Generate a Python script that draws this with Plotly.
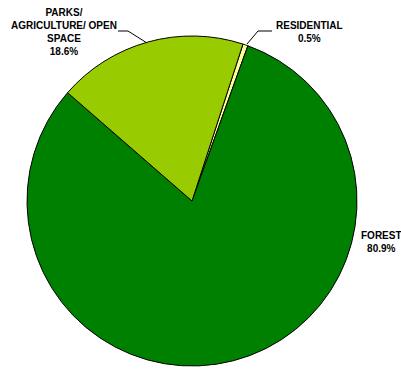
import plotly.graph_objects as go

categories = ["RESIDENTIAL", "FOREST", "PARKS/<br>AGRICULTURE/ OPEN<br>SPACE"]
values = [0.5, 80.9, 18.6]
colors = ["#FFFF99", "#008000", "#99CC00"]

W, H = 401, 374
cx, cy, r = 192, 201, 165

fig = go.Figure(go.Pie(
    labels=categories,
    values=values,
    sort=False,
    direction="clockwise",
    rotation=18,
    marker=dict(colors=colors, line=dict(color="black", width=1)),
    textinfo="none",
    hoverinfo="label+percent",
    showlegend=False,
    domain=dict(x=[(cx - r) / W, (cx + r) / W],
                y=[(H - cy - r) / H, (H - cy + r) / H]),
))

font = dict(family="Liberation Sans, Arial, sans-serif", size=10, color="black", weight="bold")
label_pos = [(309, 32), (381, 242), (64, 31.5)]
for cat, v, (x, y) in zip(categories, values, label_pos):
    fig.add_annotation(x=x / W, y=1 - y / H, xref="paper", yref="paper",
                       text=f"{cat}<br>{v:.1f}%", showarrow=False, font=font,
                       xanchor="center", yanchor="middle", align="center")

# leader lines
fig.add_shape(type="path", xref="paper", yref="paper",
              path=f"M {118/W} {1-31/H} L {128/W} {1-31/H} L {147/W} {1-43/H}",
              line=dict(color="black", width=1))
fig.add_shape(type="path", xref="paper", yref="paper",
              path=f"M {247/W} {1-44/H} L {258/W} {1-31/H} L {272/W} {1-31/H}",
              line=dict(color="black", width=1))

fig.update_layout(width=W, height=H, margin=dict(l=0, r=0, t=0, b=0),
                  paper_bgcolor="white", plot_bgcolor="white")
fig.write_html("out.html")
